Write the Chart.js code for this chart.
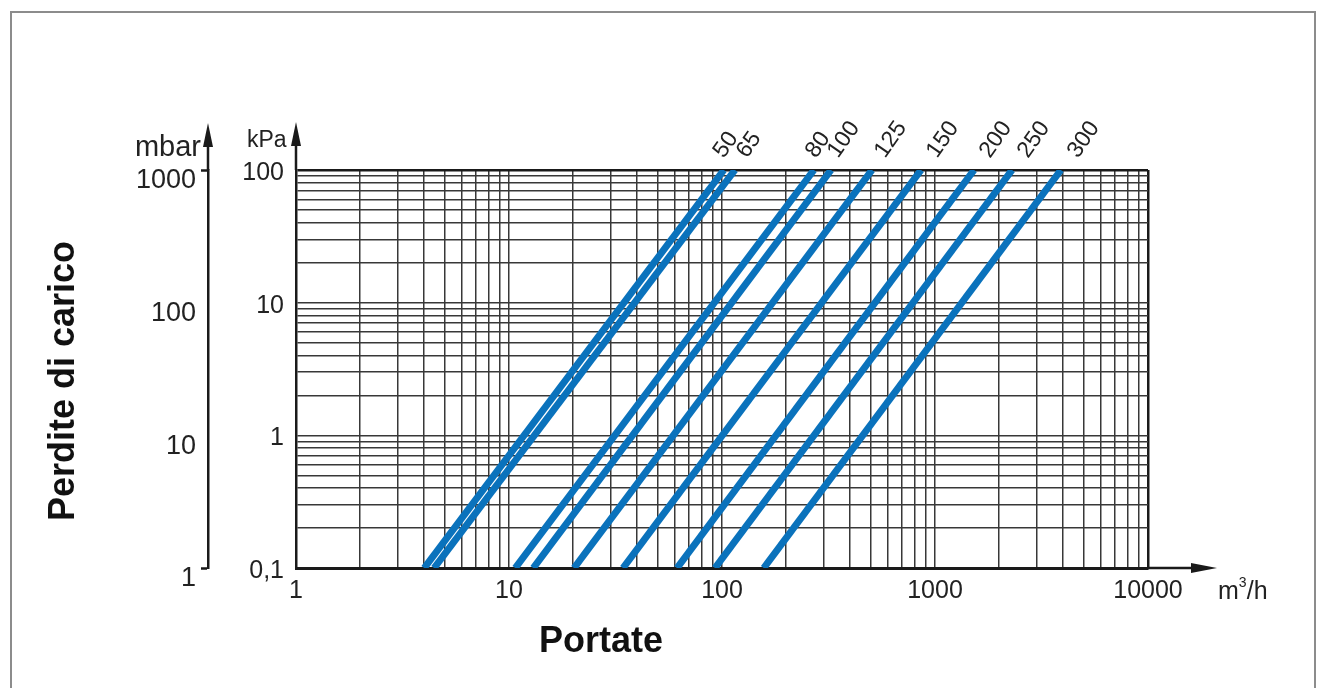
<!DOCTYPE html>
<html>
<head>
<meta charset="utf-8">
<script src="https://cdn.jsdelivr.net/npm/chart.js@4.4.0/dist/chart.umd.min.js"></script>
<style>
  html, body { margin: 0; padding: 0; background: #fff; }
  #wrap { position: relative; width: 1323px; height: 688px; overflow: hidden; }
  #frame { position: absolute; left: 10px; top: 11px; width: 1306px; height: 700px; border: 2px solid #8c8c8c; box-sizing: border-box; }
  #chart { position: absolute; left: 0; top: 0; }
</style>
</head>
<body>
<div id="wrap">
  <div id="frame"></div>
  <canvas id="chart" width="1323" height="688"></canvas>
</div>
<script>
// ==================== DATI ====================
const diametri = ['50', '65', '80', '100', '125', '150', '200', '250', '300'];
// portata (m3/h) letta a 0,1 kPa e a 100 kPa
const portataMin = [4.0, 4.45, 10.7, 13.0, 20.2, 34.3, 61.5, 92.7, 157];
const portataMax = [102, 115, 270, 325, 506, 860, 1525, 2300, 3900];
const perditaMin = 0.1;
const perditaMax = 100;

const xGrid = [1, 2, 3, 4, 5, 6, 7, 8, 9,
               10, 20, 30, 40, 50, 60, 70, 80, 90,
               100, 200, 300, 400, 500, 600, 700, 800, 900,
               1000, 2000, 3000, 4000, 5000, 6000, 7000, 8000, 9000, 10000];
const yGrid = [0.1, 0.2, 0.3, 0.4, 0.5, 0.6, 0.7, 0.8, 0.9,
               1, 2, 3, 4, 5, 6, 7, 8, 9,
               10, 20, 30, 40, 50, 60, 70, 80, 90, 100];
const mbarTicks = [1, 10, 100, 1000];

const xLabels = { 1: '1', 10: '10', 100: '100', 1000: '1000', 10000: '10000' };
const kpaLabels = { 0.1: '0,1', 1: '1', 10: '10', 100: '100' };
const mbarLabels = { 1: '1', 10: '10', 100: '100', 1000: '1000' };

// ==================== STILE ====================
const BLU = '#0a72bc';
const GRIGLIA = '#383838';
const NERO = '#1a1a1a';
const FONT = "'Liberation Sans', Arial, Helvetica, sans-serif";
// spostamento orizzontale delle etichette dei diametri rispetto alla fine della retta
const labelDx = [0, 12, 2, 7, 13, 16, 16, 16, 17];

Chart.defaults.font.family = FONT;
Chart.defaults.color = '#222';

const datasets = diametri.map((d, i) => ({
    label: 'DN ' + d,
    data: [
        { x: portataMin[i], y: perditaMin },
        { x: portataMax[i], y: perditaMax }
    ],
    xAxisID: 'x',
    yAxisID: 'y',
    borderColor: BLU,
    backgroundColor: BLU,
    borderWidth: 7,
    borderCapStyle: 'butt',
    pointRadius: 0,
    tension: 0,
    clip: 0,
    fill: false
}));

function arrow(ctx, x1, y1, x2, y2, len, half) {
    const a = Math.atan2(y2 - y1, x2 - x1);
    ctx.beginPath();
    ctx.moveTo(x1, y1);
    ctx.lineTo(x2 - Math.cos(a) * (len - 2), y2 - Math.sin(a) * (len - 2));
    ctx.stroke();
    ctx.beginPath();
    ctx.moveTo(x2, y2);
    ctx.lineTo(x2 - Math.cos(a) * len - Math.sin(a) * half, y2 - Math.sin(a) * len + Math.cos(a) * half);
    ctx.lineTo(x2 - Math.cos(a) * len + Math.sin(a) * half, y2 - Math.sin(a) * len - Math.cos(a) * half);
    ctx.closePath();
    ctx.fill();
}

const decorPlugin = {
    id: 'decor',
    afterDraw(chart) {
        const ctx = chart.ctx;
        const area = chart.chartArea;
        const sY = chart.scales.y;
        const sM = chart.scales.mbar;
        ctx.save();
        ctx.strokeStyle = NERO;
        ctx.fillStyle = NERO;
        ctx.lineWidth = 2.5;

        // frecce degli assi
        arrow(ctx, sY.right, area.top, sY.right, 122, 24, 5);
        arrow(ctx, sM.right, area.top, sM.right, 123, 24, 5);
        arrow(ctx, area.right, area.bottom, 1217, area.bottom, 26, 5);

        // unità
        ctx.fillStyle = '#222';
        ctx.textBaseline = 'alphabetic';
        ctx.textAlign = 'right';
        ctx.font = '29px ' + FONT;
        ctx.fillText('mbar', 201, 156);
        ctx.textAlign = 'left';
        ctx.font = '23px ' + FONT;
        ctx.fillText('kPa', 247, 147);
        ctx.font = '25px ' + FONT;
        ctx.fillText('m', 1218, 599);
        const mw = ctx.measureText('m').width;
        ctx.font = '14px ' + FONT;
        ctx.fillText('3', 1218 + mw, 587);
        ctx.font = '25px ' + FONT;
        ctx.fillText('/h', 1218 + mw + 8, 599);

        // titoli
        ctx.font = 'bold 36px ' + FONT;
        ctx.textAlign = 'center';
        ctx.textBaseline = 'middle';
        ctx.fillStyle = '#111';
        ctx.fillText('Portate', 601, 642);
        ctx.save();
        ctx.translate(64, 381);
        ctx.rotate(-Math.PI / 2);
        ctx.fillText('Perdite di carico', 0, 0);
        ctx.restore();

        // etichette dei diametri
        ctx.font = '23px ' + FONT;
        ctx.fillStyle = '#222';
        ctx.textAlign = 'left';
        ctx.textBaseline = 'alphabetic';
        chart.data.datasets.forEach((ds, i) => {
            const pt = chart.getDatasetMeta(i).data[1];
            ctx.save();
            ctx.translate(pt.x + labelDx[i], 159);
            ctx.rotate(-55 * Math.PI / 180);
            ctx.fillText(diametri[i], 0, 0);
            ctx.restore();
        });
        ctx.restore();
    }
};

const chart = new Chart(document.getElementById('chart'), {
    type: 'line',
    data: { datasets: datasets },
    plugins: [decorPlugin],
    options: {
        responsive: false,
        animation: false,
        events: [],
        layout: { padding: { top: 170, right: 175, bottom: 60, left: 0 } },
        plugins: {
            legend: { display: false },
            tooltip: { enabled: false }
        },
        scales: {
            x: {
                type: 'logarithmic',
                position: 'bottom',
                min: 1,
                max: 10000,
                afterBuildTicks: (s) => { s.ticks = xGrid.map(v => ({ value: v })); },
                afterFit: (s) => { s.height = 60; },
                ticks: {
                    autoSkip: false,
                    maxRotation: 0,
                    padding: 8,
                    font: { size: 25 },
                    callback: (v) => xLabels[v] ?? ''
                },
                grid: {
                    color: (c) => (c.tick && c.tick.value === 10000) ? NERO : GRIGLIA,
                    lineWidth: (c) => (c.tick && c.tick.value === 10000) ? 2.5 : 1.5,
                    drawTicks: false
                },
                border: { display: true, color: NERO, width: 3 }
            },
            y: {
                type: 'logarithmic',
                position: 'left',
                weight: 1,
                min: 0.1,
                max: 100,
                afterBuildTicks: (s) => { s.ticks = yGrid.map(v => ({ value: v })); },
                afterFit: (s) => { s.width = 88; },
                ticks: {
                    autoSkip: false,
                    padding: 12,
                    labelOffset: 3,
                    font: { size: 25 },
                    callback: (v) => kpaLabels[v] ?? ''
                },
                grid: {
                    color: (c) => (c.tick && c.tick.value === 100) ? NERO : GRIGLIA,
                    lineWidth: (c) => (c.tick && c.tick.value === 100) ? 2.5 : 1.5,
                    drawTicks: false
                },
                border: { display: true, color: NERO, width: 2.5 }
            },
            mbar: {
                type: 'logarithmic',
                position: 'left',
                weight: 2,
                min: 1,
                max: 1000,
                afterBuildTicks: (s) => { s.ticks = mbarTicks.map(v => ({ value: v })); },
                afterFit: (s) => { s.width = 208; },
                ticks: {
                    autoSkip: false,
                    padding: 5,
                    labelOffset: 11,
                    font: { size: 27 },
                    callback: (v) => mbarLabels[v] ?? ''
                },
                grid: {
                    drawOnChartArea: false,
                    drawTicks: true,
                    tickLength: 7,
                    tickWidth: 2.5,
                    tickColor: (c) => (c.tick && (c.tick.value === 1 || c.tick.value === 1000)) ? NERO : 'rgba(0,0,0,0)'
                },
                border: { display: true, color: NERO, width: 2.5 }
            }
        }
    }
});
</script>
</body>
</html>
